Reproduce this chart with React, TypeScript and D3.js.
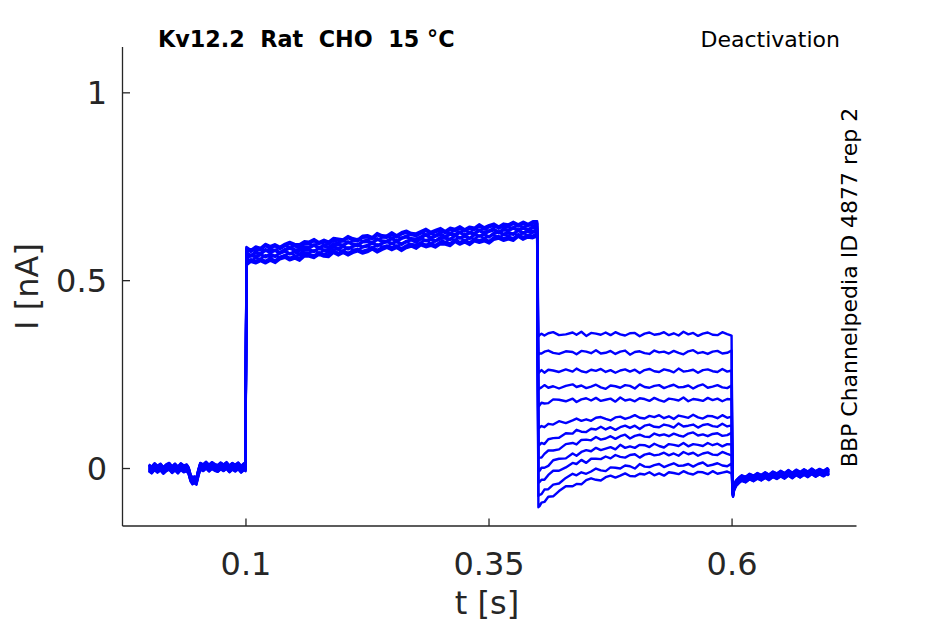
import React from 'react';
import * as d3 from 'd3';

const xTicks = [0.1, 0.35, 0.6];
const xTickLabels = ['0.1', '0.35', '0.6'];
const yTicks = [0, 0.5, 1];
const yTickLabels = ['0', '0.5', '1'];

const titleText = 'Kv12.2  Rat  CHO  15 \u00B0C';
const protocolText = 'Deactivation';
const sideText = 'BBP Channelpedia ID 4877 rep 2';
const xLabel = 't [s]';
const yLabel = 'I [nA]';

// holding before the pulse
const preT = [0.0, 0.003, 0.006, 0.009, 0.012, 0.015, 0.018, 0.021, 0.024, 0.027, 0.030, 0.033, 0.036, 0.039, 0.041, 0.043, 0.045, 0.047, 0.049, 0.051, 0.053, 0.056, 0.059, 0.062, 0.065, 0.068, 0.071, 0.074, 0.077, 0.080, 0.083, 0.086, 0.089, 0.092, 0.095, 0.098, 0.0995];
const preV = [0.002, -0.004, 0.005, -0.002, 0.004, -0.005, 0.002, 0.006, -0.003, 0.004, -0.004, 0.005, -0.001, 0.002, -0.006, -0.025, -0.033, -0.030, -0.034, -0.012, 0.006, 0.002, 0.009, 0.001, 0.008, 0.003, 0.000, 0.007, 0.002, 0.008, -0.001, 0.006, 0.001, 0.007, -0.002, 0.005, 0.002];
const preOffset = [0.006, -0.008, 0.009, -0.004, 0.002, -0.009, 0.007, -0.002, 0.004, -0.006, 0.000, 0.008];

// activating pulse
const pulseT = [0.1005, 0.105, 0.11, 0.115, 0.12, 0.125, 0.13, 0.135, 0.14, 0.145, 0.15, 0.155, 0.16, 0.165, 0.17, 0.175, 0.18, 0.185, 0.19, 0.195, 0.2, 0.205, 0.21, 0.215, 0.22, 0.225, 0.23, 0.235, 0.24, 0.245, 0.25, 0.255, 0.26, 0.265, 0.27, 0.275, 0.28, 0.285, 0.29, 0.295, 0.3, 0.305, 0.31, 0.315, 0.32, 0.325, 0.33, 0.335, 0.34, 0.345, 0.35, 0.355, 0.36, 0.365, 0.37, 0.375, 0.38, 0.385, 0.39, 0.395, 0.3995];
const pulseA = [0.569, 0.561, 0.570, 0.566, 0.577, 0.571, 0.576, 0.569, 0.577, 0.582, 0.577, 0.576, 0.584, 0.583, 0.590, 0.582, 0.588, 0.583, 0.593, 0.591, 0.589, 0.598, 0.592, 0.589, 0.599, 0.600, 0.595, 0.606, 0.600, 0.599, 0.608, 0.600, 0.608, 0.612, 0.606, 0.605, 0.611, 0.617, 0.609, 0.614, 0.619, 0.611, 0.620, 0.617, 0.624, 0.616, 0.623, 0.620, 0.629, 0.621, 0.627, 0.631, 0.623, 0.631, 0.629, 0.636, 0.629, 0.636, 0.630, 0.637, 0.637];
const pulseB = [0.562, 0.571, 0.567, 0.573, 0.567, 0.574, 0.568, 0.578, 0.582, 0.575, 0.580, 0.574, 0.585, 0.585, 0.581, 0.590, 0.585, 0.584, 0.595, 0.588, 0.595, 0.588, 0.595, 0.599, 0.593, 0.597, 0.604, 0.596, 0.603, 0.608, 0.602, 0.608, 0.600, 0.608, 0.612, 0.606, 0.615, 0.610, 0.614, 0.609, 0.618, 0.617, 0.613, 0.624, 0.617, 0.623, 0.616, 0.626, 0.622, 0.626, 0.620, 0.630, 0.633, 0.627, 0.631, 0.627, 0.638, 0.630, 0.636, 0.634, 0.639];
const pulseOffset = [0.018, -0.014, 0.007, -0.005, 0.021, -0.018, 0.003, 0.012, -0.009, -0.021, 0.015, -0.002];

// tail currents at the deactivating steps
const tailT = [0.4008, 0.402, 0.404, 0.407, 0.411, 0.416, 0.422, 0.429, 0.436, 0.44, 0.445, 0.45, 0.455, 0.46, 0.465, 0.47, 0.475, 0.48, 0.485, 0.49, 0.495, 0.5, 0.505, 0.51, 0.515, 0.52, 0.525, 0.53, 0.535, 0.54, 0.545, 0.55, 0.555, 0.56, 0.565, 0.57, 0.575, 0.58, 0.585, 0.59, 0.595, 0.5995];
const tail1 = [0.352, 0.355, 0.359, 0.354, 0.360, 0.363, 0.355, 0.357, 0.362, 0.356, 0.364, 0.353, 0.361, 0.359, 0.356, 0.362, 0.355, 0.363, 0.357, 0.354, 0.360, 0.361, 0.352, 0.359, 0.362, 0.356, 0.358, 0.363, 0.355, 0.360, 0.354, 0.364, 0.357, 0.361, 0.353, 0.359, 0.362, 0.356, 0.355, 0.363, 0.358, 0.354];
const tail2 = [0.303, 0.306, 0.306, 0.311, 0.314, 0.308, 0.305, 0.312, 0.310, 0.304, 0.313, 0.311, 0.307, 0.315, 0.306, 0.308, 0.313, 0.305, 0.311, 0.314, 0.303, 0.310, 0.312, 0.307, 0.305, 0.314, 0.309, 0.311, 0.306, 0.313, 0.308, 0.304, 0.312, 0.315, 0.307, 0.310, 0.305, 0.311, 0.313, 0.306, 0.308, 0.314];
const tail3 = [0.254, 0.257, 0.262, 0.255, 0.263, 0.261, 0.257, 0.264, 0.258, 0.266, 0.259, 0.256, 0.263, 0.260, 0.265, 0.257, 0.262, 0.255, 0.261, 0.264, 0.258, 0.263, 0.254, 0.262, 0.265, 0.259, 0.257, 0.264, 0.261, 0.256, 0.266, 0.258, 0.260, 0.263, 0.255, 0.262, 0.264, 0.259, 0.257, 0.265, 0.258, 0.261];
const tail4 = [0.210, 0.213, 0.216, 0.222, 0.215, 0.219, 0.213, 0.220, 0.224, 0.217, 0.221, 0.214, 0.218, 0.223, 0.216, 0.212, 0.221, 0.219, 0.215, 0.222, 0.220, 0.213, 0.224, 0.217, 0.215, 0.220, 0.222, 0.214, 0.219, 0.223, 0.216, 0.217, 0.221, 0.213, 0.220, 0.224, 0.215, 0.218, 0.222, 0.216, 0.214, 0.221];
const tail5 = [0.165, 0.168, 0.175, 0.173, 0.174, 0.184, 0.183, 0.179, 0.186, 0.177, 0.184, 0.187, 0.181, 0.188, 0.180, 0.183, 0.186, 0.178, 0.189, 0.181, 0.184, 0.179, 0.187, 0.185, 0.180, 0.188, 0.182, 0.178, 0.186, 0.184, 0.181, 0.189, 0.179, 0.185, 0.183, 0.180, 0.188, 0.182, 0.186, 0.179, 0.185, 0.184];
const tail6 = [0.107, 0.109, 0.113, 0.110, 0.119, 0.117, 0.126, 0.121, 0.128, 0.133, 0.127, 0.131, 0.127, 0.135, 0.137, 0.132, 0.128, 0.136, 0.138, 0.132, 0.136, 0.142, 0.135, 0.133, 0.140, 0.137, 0.142, 0.134, 0.139, 0.132, 0.141, 0.138, 0.135, 0.143, 0.136, 0.133, 0.140, 0.139, 0.134, 0.142, 0.135, 0.138];
const tail7 = [0.061, 0.063, 0.068, 0.065, 0.078, 0.081, 0.082, 0.094, 0.093, 0.103, 0.098, 0.097, 0.106, 0.104, 0.111, 0.104, 0.110, 0.103, 0.110, 0.114, 0.108, 0.114, 0.105, 0.114, 0.117, 0.111, 0.110, 0.117, 0.114, 0.109, 0.120, 0.112, 0.114, 0.117, 0.109, 0.116, 0.118, 0.113, 0.111, 0.119, 0.112, 0.115];
const tail8 = [0.027, 0.029, 0.029, 0.039, 0.048, 0.048, 0.051, 0.065, 0.068, 0.064, 0.076, 0.077, 0.075, 0.084, 0.077, 0.080, 0.086, 0.079, 0.086, 0.090, 0.080, 0.087, 0.090, 0.085, 0.084, 0.093, 0.088, 0.091, 0.086, 0.093, 0.088, 0.085, 0.093, 0.096, 0.088, 0.091, 0.086, 0.092, 0.094, 0.087, 0.089, 0.095];
const tail9 = [-0.008, -0.006, 0.002, 0.002, 0.007, 0.022, 0.026, 0.027, 0.040, 0.034, 0.044, 0.049, 0.046, 0.055, 0.049, 0.053, 0.057, 0.051, 0.063, 0.055, 0.059, 0.055, 0.063, 0.062, 0.057, 0.066, 0.060, 0.056, 0.065, 0.063, 0.060, 0.068, 0.059, 0.065, 0.063, 0.060, 0.068, 0.062, 0.066, 0.059, 0.065, 0.064];
const tail10 = [-0.038, -0.036, -0.030, -0.030, -0.017, -0.006, -0.006, 0.003, 0.015, 0.012, 0.023, 0.015, 0.026, 0.026, 0.025, 0.032, 0.027, 0.036, 0.031, 0.029, 0.036, 0.038, 0.029, 0.037, 0.040, 0.035, 0.037, 0.042, 0.035, 0.040, 0.034, 0.044, 0.038, 0.042, 0.034, 0.040, 0.043, 0.037, 0.036, 0.044, 0.039, 0.035];
const tail11 = [-0.073, -0.070, -0.068, -0.056, -0.055, -0.043, -0.040, -0.025, -0.014, -0.018, -0.010, -0.014, -0.008, 0.000, -0.005, -0.007, 0.003, 0.002, 0.000, 0.008, 0.006, 0.000, 0.012, 0.005, 0.004, 0.009, 0.012, 0.004, 0.009, 0.014, 0.007, 0.008, 0.012, 0.005, 0.012, 0.016, 0.007, 0.010, 0.014, 0.008, 0.006, 0.013];
const tail12 = [-0.103, -0.100, -0.091, -0.089, -0.075, -0.074, -0.060, -0.047, -0.047, -0.041, -0.042, -0.031, -0.026, -0.030, -0.032, -0.023, -0.019, -0.024, -0.019, -0.013, -0.020, -0.021, -0.014, -0.016, -0.010, -0.018, -0.013, -0.019, -0.010, -0.012, -0.015, -0.007, -0.013, -0.016, -0.009, -0.010, -0.015, -0.007, -0.014, -0.011, -0.008, -0.013];
const tails = [tail1, tail2, tail3, tail4, tail5, tail6, tail7, tail8, tail9, tail10, tail11, tail12];

// back to holding after the step
const postT = [0.6005, 0.601, 0.602, 0.604, 0.607, 0.61, 0.614, 0.618, 0.622, 0.626, 0.63, 0.634, 0.638, 0.642, 0.646, 0.65, 0.654, 0.658, 0.662, 0.666, 0.67, 0.674, 0.678, 0.682, 0.686, 0.69, 0.694, 0.698, 0.6995];
const postV = [-0.060, -0.068, -0.052, -0.040, -0.032, -0.026, -0.030, -0.022, -0.027, -0.020, -0.025, -0.018, -0.024, -0.016, -0.021, -0.014, -0.020, -0.012, -0.019, -0.011, -0.017, -0.010, -0.016, -0.008, -0.015, -0.009, -0.014, -0.007, -0.012];
const postOffset = [0.006, -0.005, 0.003, -0.007, 0.008, 0.000, -0.003, 0.004, -0.006, 0.007, -0.002, 0.002];

const W = 945;
const H = 624;
const axisColor = '#262626';
const font = 'DejaVu Sans, sans-serif';

export default function App() {
  const x = d3.scaleLinear().domain([-0.027, 0.728]).range([122.5, 856.5]);
  const y = d3.scaleLinear().domain([-0.153, 1.122]).range([526, 47]);
  const line = d3
    .line<[number, number]>()
    .x((d) => x(d[0]))
    .y((d) => y(d[1]));

  const traces = tails.map((tail, i) => {
    const pulse = i % 2 === 0 ? pulseA : pulseB;
    const pts: [number, number][] = [
      ...preT.map((t, j) => [t, preV[j] + preOffset[i]] as [number, number]),
      ...pulseT.map((t, j) => [t, pulse[j] + pulseOffset[i]] as [number, number]),
      ...tailT.map((t, j) => [t, tail[j]] as [number, number]),
      ...postT.map((t, j) => [t, postV[j] + postOffset[i]] as [number, number]),
    ];
    return line(pts) || '';
  });

  const [x0, x1] = x.range();
  const [y0, y1] = y.range();

  return (
    <svg
      width={W}
      height={H}
      style={{ position: 'absolute', left: 0, top: 0, background: '#fff' }}
      fontFamily={font}
    >
      <rect x={0} y={0} width={W} height={H} fill="#fff" />
      {traces.map((d, i) => (
        <path key={i} d={d} fill="none" stroke="#0000ff" strokeWidth={2.4} strokeLinejoin="round" />
      ))}
      {/* axes */}
      <line x1={x0} y1={y0} x2={x1} y2={y0} stroke={axisColor} strokeWidth={1.3} />
      <line x1={x0} y1={y0} x2={x0} y2={y1} stroke={axisColor} strokeWidth={1.3} />
      {xTicks.map((t, i) => (
        <g key={'xt' + i}>
          <line x1={x(t)} x2={x(t)} y1={y0} y2={y0 - 7.5} stroke={axisColor} strokeWidth={1.3} />
          <text x={x(t)} y={575} textAnchor="middle" fontSize={32} fill={axisColor}>
            {xTickLabels[i]}
          </text>
        </g>
      ))}
      {yTicks.map((t, i) => (
        <g key={'yt' + i}>
          <line x1={x0} x2={x0 + 7.5} y1={y(t)} y2={y(t)} stroke={axisColor} strokeWidth={1.3} />
          <text x={107} y={y(t) + 11.5} textAnchor="end" fontSize={32} fill={axisColor}>
            {yTickLabels[i]}
          </text>
        </g>
      ))}
      <text x={487} y={614} textAnchor="middle" fontSize={32} fill={axisColor}>
        {xLabel}
      </text>
      <text
        transform={`translate(38, ${(y0 + y1) / 2}) rotate(-90)`}
        textAnchor="middle"
        fontSize={32}
        fill={axisColor}
      >
        {yLabel}
      </text>
      <text x={158} y={47} fontSize={22.3} fontWeight="bold" fill="#000" style={{ whiteSpace: 'pre' }}>
        {titleText}
      </text>
      <text x={840} y={47} fontSize={22} textAnchor="end" fill="#000">
        {protocolText}
      </text>
      <text
        transform={`translate(857, 287.5) rotate(-90)`}
        textAnchor="middle"
        fontSize={22}
        fill="#000"
      >
        {sideText}
      </text>
    </svg>
  );
}
